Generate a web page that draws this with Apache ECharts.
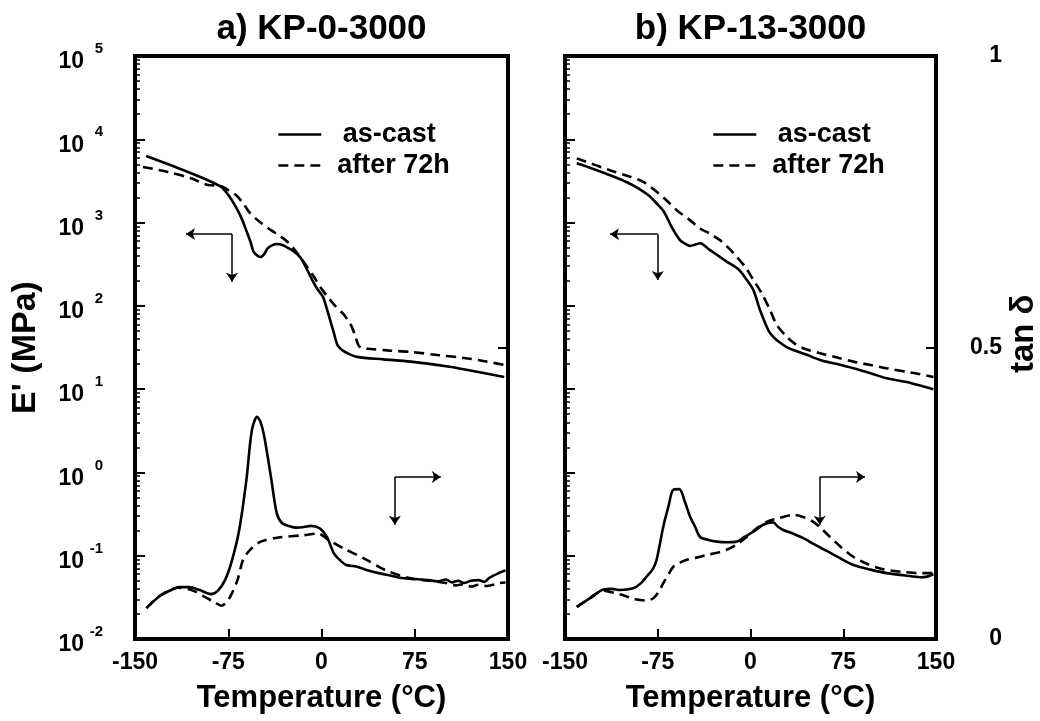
<!DOCTYPE html>
<html><head><meta charset="utf-8">
<script src="https://cdn.jsdelivr.net/npm/echarts@6/dist/echarts.min.js"></script>
<style>html,body{margin:0;padding:0;background:#fff}#c{width:1040px;height:721px}</style>
</head><body><div id="c"></div>
<script>
// ---- data (temperature in °C) ----
const xTicks = [-150, -75, 0, 75, 150];
const panelTitles = ['a) KP-0-3000', 'b) KP-13-3000'];
const seriesNames = ['as-cast', 'after 72h'];
const tanTickLabels = ['0', '0.5', '1'];

// Panel a: storage modulus E' (MPa)
const aModCast = [[-141,6300],[-115,4500],[-95,3400],[-81,2700],[-75,2150],[-69,1550],[-64,1100],[-60.6,810],[-57,580],[-54.6,444],[-51,395],[-48.9,386],[-46,420],[-43,496],[-39,540],[-36,553],[-32,540],[-28.8,513],[-23,460],[-17.3,386],[-13,300],[-8.7,222],[-4,165],[1.2,128],[4,95],[6.9,68],[10,47],[12.8,34],[16,30],[21,27],[28.5,24.4],[50,22.8],[71.7,21.4],[103,18.6],[125,16.2],[147,14]];
const aModAged = [[-143.6,4650],[-123.5,4050],[-105,3400],[-92,2840],[-81,2750],[-75,2450],[-68.8,2140],[-63,1700],[-57.5,1300],[-49,1000],[-40.6,810],[-34,700],[-28.8,615],[-23,500],[-17.3,386],[-12,300],[-6,222],[0,160],[5.7,124],[11,100],[17.2,81],[21,68],[24.4,56],[27,44],[30,33],[33,31],[37.4,30.5],[55,29],[71.7,28],[95,25.5],[114.6,23.7],[130,21.8],[147,19.5]];
// Panel a: tan delta
const aTanCast = [[-140.8,0.053],[-129.3,0.075],[-120,0.085],[-115,0.089],[-106.6,0.089],[-98,0.084],[-89,0.077],[-83.3,0.083],[-77.6,0.101],[-72,0.135],[-66.2,0.187],[-60.4,0.273],[-56,0.358],[-51.8,0.381],[-49,0.372],[-46,0.347],[-40.3,0.273],[-36,0.216],[-31.8,0.199],[-25,0.193],[-20.2,0.191],[-14,0.192],[-8.7,0.194],[-1.5,0.19],[4.3,0.175],[10,0.147],[15,0.135],[20,0.127],[28.5,0.124],[37,0.118],[45.9,0.113],[55,0.109],[63,0.105],[75,0.103],[86,0.101],[93,0.099],[100,0.102],[105,0.097],[110,0.1],[114.6,0.096],[120,0.1],[126.4,0.101],[131,0.098],[135,0.105],[143.5,0.114],[148,0.118]];
const aTanAged = [[-140.8,0.053],[-129.3,0.075],[-115,0.088],[-103.4,0.083],[-92,0.07],[-86,0.063],[-80.5,0.057],[-77,0.062],[-73.3,0.073],[-67.6,0.101],[-63.2,0.135],[-57.5,0.153],[-48.9,0.167],[-34.5,0.174],[-14.4,0.178],[-2.9,0.181],[5.7,0.17],[17.2,0.156],[34.4,0.138],[51.6,0.118],[71.7,0.104],[90,0.099],[100,0.096],[108,0.092],[114,0.094],[120.6,0.09],[126,0.093],[133,0.091],[143.5,0.096],[148,0.097]];

// Panel b: storage modulus E' (MPa)
const bModCast = [[-140.5,5150],[-127,4400],[-113.6,3700],[-100,3050],[-90.7,2580],[-82,2100],[-75.9,1700],[-70,1350],[-63.8,890],[-57,615],[-53,560],[-48.9,525],[-44,548],[-40.8,565],[-33,470],[-25,390],[-19.3,340],[-9.8,275],[-4,215],[2.3,155],[7.7,89],[14.4,51],[18.4,42.5],[24,36],[29.3,32],[34.6,29.5],[45,26],[56.2,22.4],[70,20],[83.2,17.8],[97,15.5],[110.1,13.5],[130,11.8],[147.9,10]];
const bModAged = [[-140.5,5900],[-113.6,4250],[-100,3650],[-86.7,3080],[-75.9,2350],[-68,1850],[-59.7,1410],[-50,1100],[-40.8,850],[-33,740],[-24.7,615],[-18,500],[-11.2,390],[-4,290],[2.3,205],[9,142],[15.8,89],[21.2,59],[29.3,42.5],[36,35],[42.7,31],[56.2,27],[70,24],[83.2,21.4],[97,19.5],[110.1,17.8],[130,15.8],[147.9,14]];
// Panel b: tan delta
const bTanCast = [[-140.5,0.055],[-129.8,0.07],[-119,0.085],[-112,0.086],[-105.5,0.084],[-94.8,0.087],[-89,0.095],[-84,0.107],[-79,0.12],[-75.9,0.136],[-70.5,0.193],[-66.4,0.227],[-62.4,0.256],[-57.6,0.257],[-53,0.235],[-48.9,0.21],[-44.9,0.193],[-40.8,0.175],[-34,0.17],[-27.3,0.167],[-19,0.166],[-11.2,0.167],[-5,0.175],[2.3,0.184],[10.3,0.196],[18.4,0.2],[22,0.193],[26.5,0.187],[34,0.181],[42.7,0.173],[51,0.163],[61.6,0.151],[72,0.139],[83.2,0.127],[97,0.119],[110.1,0.113],[125,0.109],[137,0.106],[143,0.107],[147.9,0.111]];
const bTanAged = [[-140.5,0.055],[-129.8,0.07],[-119,0.083],[-110,0.079],[-102.8,0.075],[-95,0.069],[-89.4,0.067],[-84,0.066],[-78.6,0.07],[-74,0.082],[-70.5,0.096],[-66,0.112],[-62.4,0.124],[-57,0.131],[-51.6,0.136],[-43,0.14],[-35.4,0.144],[-27,0.148],[-19.3,0.153],[-11,0.162],[-3.1,0.175],[5,0.19],[13.1,0.201],[24,0.208],[34.6,0.213],[43,0.209],[50.8,0.201],[57,0.19],[64.3,0.175],[73,0.158],[83.2,0.141],[94,0.129],[104.8,0.121],[115,0.117],[123.6,0.115],[135,0.113],[147.9,0.113]];

// Annotation arrows: [corner, horizontal end, vertical end]
const aArrowMod = [[-72,730],[-109,730],[-72,195]];
const aArrowTan = [[59,0.278],[96,0.278],[59,0.196]];
const bArrowMod = [[-75,725],[-113.6,725],[-75,204]];
const bArrowTan = [[56,0.278],[92.6,0.278],[56,0.196]];

// ---- chart ----
const FONT = 'Liberation Sans';
const BLACK = '#000';
const txt = (size) => ({fontFamily: FONT, fontSize: size, fontWeight: 'bold', color: BLACK});

function arrowMarks(a) {
  return {
    silent: true, symbol: ['none', 'arrow'], symbolSize: 9, animation: false,
    label: {show: false},
    lineStyle: {color: BLACK, width: 1.5, type: 'solid'},
    emphasis: {disabled: true},
    data: [
      [{coord: a[0]}, {coord: a[1]}],
      [{coord: a[0]}, {coord: a[2]}]
    ]
  };
}

const grids = [
  {left: 135, top: 56, width: 373, height: 583},
  {left: 565, top: 56, width: 371, height: 583}
].map(g => Object.assign(g, {show: true, borderColor: BLACK, borderWidth: 4, backgroundColor: 'transparent', containLabel: false, outerBoundsMode: 'none'}));

const noLine = {show: false, onZero: false};
const xAxes = [];
const yAxes = [];
[0, 1].forEach(gi => {
  xAxes.push({
    gridIndex: gi, type: 'value', min: xTicks[0], max: xTicks[xTicks.length - 1], interval: 75,
    axisLine: noLine, splitLine: {show: false},
    axisTick: {show: true, inside: true, length: 10, lineStyle: {color: BLACK, width: 2}},
    axisLabel: Object.assign(txt(23), {margin: 12}),
    name: 'Temperature (°C)', nameLocation: 'middle', nameGap: 44, nameTextStyle: txt(31)
  });
  xAxes.push({
    gridIndex: gi, type: 'value', position: 'top', min: xTicks[0], max: xTicks[xTicks.length - 1],
    axisLine: noLine, axisTick: {show: false}, axisLabel: {show: false}, splitLine: {show: false},
    name: panelTitles[gi], nameLocation: 'middle', nameGap: 9, nameTextStyle: txt(35)
  });
});
// per grid: log axis (ticks + "10" labels), exponent axis, tan delta axis
[0, 1].forEach(gi => {
  yAxes.push({
    gridIndex: gi, type: 'log', logBase: 10, min: 0.01, max: 100000, position: 'left',
    axisLine: noLine, splitLine: {show: false},
    axisTick: {show: true, inside: true, length: 10, lineStyle: {color: BLACK, width: 2}},
    minorTick: {show: true, splitNumber: 9, length: 5, lineStyle: {color: BLACK, width: 1.5}},
    axisLabel: gi === 0 ? Object.assign(txt(23), {margin: 51, verticalAlign: 'top', lineHeight: 12, formatter: () => '10'}) : {show: false},
    name: gi === 0 ? "E' (MPa)" : '', nameLocation: 'middle', nameGap: 92, nameTextStyle: txt(34)
  });
  yAxes.push({
    gridIndex: gi, type: 'log', logBase: 10, min: 0.01, max: 100000, position: 'left',
    axisLine: noLine, axisTick: {show: false}, splitLine: {show: false},
    axisLabel: gi === 0 ? Object.assign(txt(15), {margin: 32, verticalAlign: 'bottom', lineHeight: 14,
      formatter: v => String(Math.round(Math.log10(v)))}) : {show: false}
  });
  yAxes.push({
    gridIndex: gi, type: 'value', min: 0, max: 1, interval: 0.5, position: 'right',
    axisLine: noLine, splitLine: {show: false},
    axisTick: {show: true, inside: true, length: 10, lineStyle: {color: BLACK, width: 2}},
    axisLabel: gi === 1 ? Object.assign(txt(23), {margin: 66, align: 'right',
      formatter: v => tanTickLabels[Math.round(v * 2)]}) : {show: false},
    name: gi === 1 ? '\u00a0\u00a0\u00a0tan δ' : '', nameLocation: 'middle', nameRotate: 90, nameGap: 71, nameTextStyle: txt(33)
  });
});

function line(name, data, xi, yi, dashed, mark) {
  const s = {
    name: name, type: 'line', xAxisIndex: xi, yAxisIndex: yi, data: data,
    symbol: 'none', smooth: 0.3, animation: false, silent: true,
    lineStyle: {color: BLACK, width: 2.6, type: dashed ? [10, 6] : 'solid'},
    itemStyle: {color: BLACK}
  };
  if (mark) s.markLine = arrowMarks(mark);
  return s;
}

const series = [
  line(seriesNames[0], aModCast, 0, 0, false, aArrowMod),
  line(seriesNames[1], aModAged, 0, 0, true),
  line(seriesNames[0], aTanCast, 0, 2, false, aArrowTan),
  line(seriesNames[1], aTanAged, 0, 2, true),
  line(seriesNames[0], bModCast, 2, 3, false, bArrowMod),
  line(seriesNames[1], bModAged, 2, 3, true),
  line(seriesNames[0], bTanCast, 2, 5, false, bArrowTan),
  line(seriesNames[1], bTanAged, 2, 5, true)
];

const legendBase = (left) => ({
  left: left, top: 116, orient: 'vertical', itemWidth: 43, itemHeight: 14, itemGap: 4,
  selectedMode: false, data: seriesNames,
  itemStyle: {opacity: 0},
  lineStyle: {width: 2.6},
  formatter: n => n === seriesNames[0] ? '\u2009' + n : n,
  textStyle: Object.assign(txt(27), {lineHeight: 24, padding: [0, 0, 0, 11]})
});

const chart = echarts.init(document.getElementById('c'), null, {renderer: 'canvas'});
chart.setOption({
  animation: false,
  backgroundColor: '#fff',
  grid: grids,
  xAxis: xAxes,
  yAxis: yAxes,
  legend: [legendBase(272), legendBase(707)],
  series: series
});
</script>
</body></html>
